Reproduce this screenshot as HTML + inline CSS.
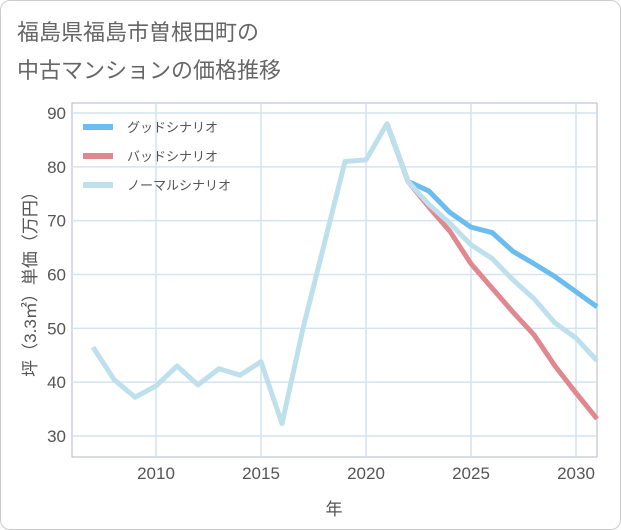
<!DOCTYPE html>
<html><head><meta charset="utf-8"><style>
html,body{margin:0;padding:0;background:#fff;}
#wrap{position:relative;width:619px;height:528px;border:1px solid #ccc;border-radius:10px;overflow:hidden;font-family:"Liberation Sans","Noto Sans CJK JP",sans-serif;}
.title{position:absolute;left:16px;font-size:22px;color:#666;}
</style></head><body>
<div id="wrap">
<div class="title" style="top:14px">福島県福島市曽根田町の</div>
<div class="title" style="top:52px">中古マンションの価格推移</div>
<svg id="chart" width="621" height="530" style="position:absolute;left:-1px;top:-1px"></svg>
</div>
<script>
const years=[2007,2008,2009,2010,2011,2012,2013,2014,2015,2016,2017,2018,2019,2020,2021,2022,2023,2024,2025,2026,2027,2028,2029,2030,2031];
const normalVals=[46.5,40.5,37.2,39.3,43,39.5,42.5,41.3,43.8,32.3,50,65.5,81,81.3,88,77.3,73,69.5,65.5,63,59,55.5,51,48.2,44];
const goodYears=[2021,2022,2023,2024,2025,2026,2027,2028,2029,2030,2031];
const goodVals=[88,77.3,75.5,71.5,68.8,67.8,64.3,62,59.6,56.8,54];
const badVals=[88,77.3,72.5,68,62,57.5,53,48.8,43,38,33.2];
const yTicks=[30,40,50,60,70,80,90];
const xTicks=[2010,2015,2020,2025,2030];
const NS='http://www.w3.org/2000/svg';
const svg=document.getElementById('chart');
const L=72,R=597,T=103,B=457;
const xs=y=>156+(y-2010)*21;
const ys=v=>436-(v-30)*5.383;
function mk(t,a){const e=document.createElementNS(NS,t);for(const k in a)e.setAttribute(k,a[k]);svg.appendChild(e);return e;}
let bg=mk('rect',{x:L,y:T,width:R-L,height:B-T,fill:'#fff',stroke:'#b0b8c4'});


yTicks.forEach(v=>{
 let g=mk('line',{x1:L,x2:R,y1:ys(v),y2:ys(v),stroke:'#d3e3ef','stroke-width':1.5});
 
 
 let t=mk('text',{x:L-6,y:ys(v)+6,'text-anchor':'end','font-size':17,fill:'#555'});
 t.textContent=v;
 
 
});
xTicks.forEach(v=>{
 let g=mk('line',{x1:xs(v),x2:xs(v),y1:T,y2:B,stroke:'#d3e3ef','stroke-width':1.5});
 
 
 let t=mk('text',{x:xs(v),y:B+22,'text-anchor':'middle','font-size':17,fill:'#555'});
 t.textContent=v;
 
 
});
function line(xv,yv,col,name){
 let p=mk('polyline',{points:xv.map((x,i)=>xs(x)+','+ys(yv[i])).join(' '),fill:'none',stroke:col,'stroke-width':5,'stroke-linejoin':'round'});
 
 
}
line(goodYears,goodVals,'#6bbdf0','good-scenario-line');
line(goodYears,badVals,'#e08890','bad-scenario-line');
line(years,normalVals,'#bde0ec','normal-scenario-line');
const leg=[['グッドシナリオ','#6bbdf0'],['バッドシナリオ','#e08890'],['ノーマルシナリオ','#bde0ec']];
leg.forEach((l,i)=>{
 let y=127+i*29;
 let r=mk('rect',{x:83,y:y-3,width:30,height:6,fill:l[1]});
 
 
 let t=mk('text',{x:127,y:y+5,'font-size':13,fill:'#555'});
 t.textContent=l[0];
 
 
});
let xl=mk('text',{x:334,y:515,'text-anchor':'middle','font-size':17,fill:'#555'});
xl.textContent='年';


let yl=mk('text',{x:0,y:0,'text-anchor':'middle','font-size':17,fill:'#555',transform:'translate(36,280) rotate(-90)'});
yl.textContent='坪（3.3㎡）単価（万円）';


</script>
</body></html>
